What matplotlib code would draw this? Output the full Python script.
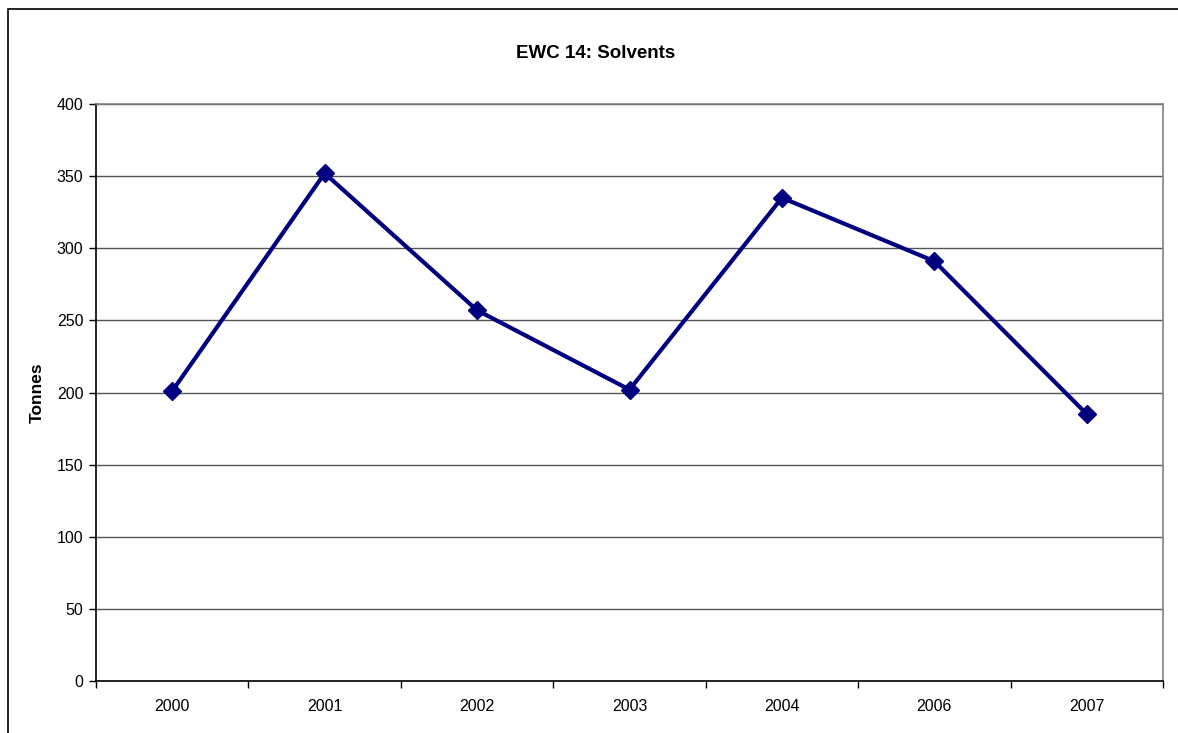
import matplotlib
matplotlib.use("Agg")
import matplotlib.pyplot as plt
from matplotlib.patches import Rectangle
import numpy as np

plt.rcParams['font.family'] = ['Liberation Sans', 'DejaVu Sans']

# Chart data
years = ['2000', '2001', '2002', '2003', '2004', '2006', '2007']
tonnes = [201, 352, 257, 202, 335, 291, 185]
y_ticks = [0, 50, 100, 150, 200, 250, 300, 350, 400]

fig = plt.figure(figsize=(11.78, 7.33), dpi=100)
ax = fig.add_axes([0.0815, 0.0709, 0.9058, 0.7872])

# outer chart border (cut off at right and bottom like the reference)
fig.patches.append(Rectangle((8 / 1178, -0.05), 1.1, 1 - 9 / 733 + 0.05,
                             transform=fig.transFigure, fill=False,
                             edgecolor='black', linewidth=1.2, clip_on=False))

x = np.arange(len(years)) + 0.5
ax.plot(x, tonnes, color='#000080', linewidth=3.0, marker='D',
        markersize=9, markerfacecolor='#000080', markeredgecolor='#000080',
        zorder=3)

ax.set_xlim(0, len(years))
ax.set_ylim(0, 400)
ax.set_yticks(y_ticks)
ax.yaxis.grid(True, color='#555555', linewidth=1.0)
ax.set_axisbelow(True)

# category labels centred, tick marks on the boundaries
ax.set_xticks(x)
ax.set_xticklabels(years)
ax.set_xticks(np.arange(len(years) + 1), minor=True)
ax.tick_params(axis='x', which='major', length=0, pad=13, labelsize=11.5)
ax.tick_params(axis='x', which='minor', length=5, width=1, direction='out')
ax.tick_params(axis='y', length=5, width=1, direction='out', labelsize=11.5, pad=4)

for side in ['left', 'bottom']:
    ax.spines[side].set_color('black')
    ax.spines[side].set_linewidth(1.2)
for side in ['top', 'right']:
    ax.spines[side].set_color('#808080')
    ax.spines[side].set_linewidth(1.2)

ax.set_ylabel('Tonnes', fontsize=12.5, fontweight='bold', labelpad=9)
fig.text(596 / 1178, 1 - 54 / 733, 'EWC 14: Solvents', ha='center',
         va='center', fontsize=13.5, fontweight='bold')

fig.savefig('out.png', dpi=100)
